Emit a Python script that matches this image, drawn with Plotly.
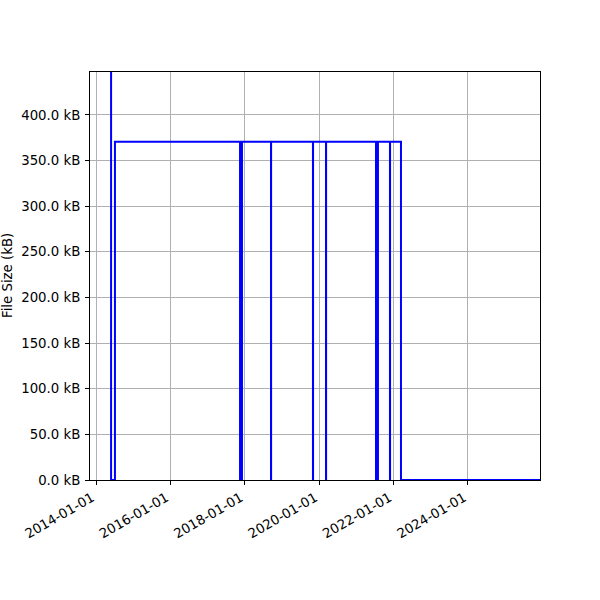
import plotly.graph_objects as go

# Dates where the file size changes (step-post) and the size in kB from that date on
dates = ["2014-05-28", "2014-05-29", "2014-07-06", "2017-11-15", "2017-12-04",
         "2018-09-15", "2018-09-16", "2019-11-01", "2019-11-02", "2020-03-08",
         "2020-03-09", "2021-07-12", "2021-07-31", "2021-11-26", "2021-11-27",
         "2022-03-14", "2025-12-08"]
sizes_kb = [520, 0, 370.5, 0, 370.5,
            0, 370.5, 0, 370.5, 0,
            370.5, 0, 370.5, 0, 370.5,
            0, 0]

y_ticks = [0, 50, 100, 150, 200, 250, 300, 350, 400]
y_tick_labels = [f"{v:.1f} kB" for v in y_ticks]
x_ticks = ["2014-01-01", "2016-01-01", "2018-01-01", "2020-01-01", "2022-01-01", "2024-01-01"]

FONT = "DejaVu Sans"

fig = go.Figure()
fig.add_trace(go.Scatter(
    x=dates, y=sizes_kb, mode="lines", line_shape="hv",
    line=dict(color="#0000ff", width=2), showlegend=False,
))

axis_common = dict(
    showline=True, linecolor="black", linewidth=1, mirror=True,
    ticks="outside", ticklen=4, tickcolor="black", tickwidth=1,
    showgrid=True, gridcolor="#b0b0b0", gridwidth=1, zeroline=False,
    tickfont=dict(family=FONT, size=13.3, color="black"),
    automargin=False,
)

L, R, T, B = 90, 60, 72, 120
fig.update_layout(
    width=600, height=600,
    paper_bgcolor="white", plot_bgcolor="white",
    margin=dict(l=L, r=R, t=T, b=B),
    font=dict(family=FONT, size=13.3, color="black"),
    xaxis=dict(
        type="date", range=["2013-11-03", "2025-12-08"],
        tickvals=x_ticks, ticktext=x_ticks, tickangle=-30,
        ticklabelshift=-4,
        **axis_common,
    ),
    yaxis=dict(
        range=[0, 447], tickvals=y_ticks, ticktext=y_tick_labels,
        ticklabelstandoff=2,
        **axis_common,
    ),
)
fig.add_annotation(
    text="File Size (kB)", textangle=-90, showarrow=False,
    xref="paper", yref="paper", x=(7 - L) / (600 - L - R), y=0.5,
    xanchor="center", yanchor="middle",
    font=dict(family=FONT, size=13.3, color="black"),
)

fig.write_html("out.html", config={"displayModeBar": False},
               post_script="document.body.style.margin='0';")
